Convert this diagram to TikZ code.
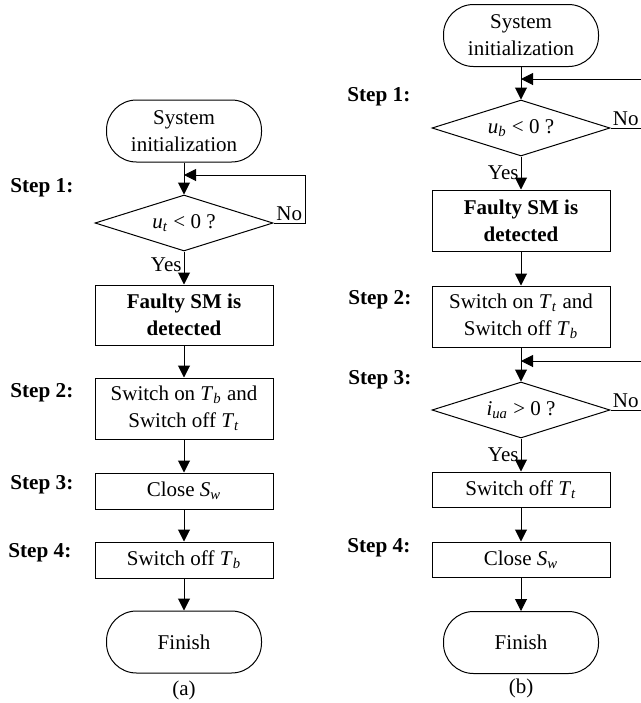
\documentclass[tikz,border=0pt]{standalone}
\usepackage{fontspec}
\setmainfont{Liberation Serif}
\usetikzlibrary{arrows.meta,positioning,shapes.geometric}

\newcommand{\symsub}[2]{\textit{#1}\textsubscript{\textit{#2}}}

\tikzset{
  flowline/.style={line width=0.5pt,-{Triangle[length=6pt,width=6pt]}},
  plainline/.style={line width=0.5pt},
  term/.style={draw,line width=0.5pt,rounded corners=15pt,minimum width=77.5pt,minimum height=31pt,align=center,inner sep=1pt},
  procbox/.style={draw,line width=0.5pt,minimum width=89pt,align=center,inner sep=1pt},
  decide/.style={draw,line width=0.5pt,diamond,aspect=3.2,minimum width=89pt,minimum height=28pt,inner sep=0pt},
  steplabel/.style={anchor=west,font=\fontsize{10.6}{13.5}\selectfont\bfseries,inner sep=0pt},
}

\begin{document}
\begin{tikzpicture}[x=0.5pt,y=-0.5pt,font=\fontsize{10.5}{13.5}\selectfont]
\useasboundingbox (0,0) rectangle (641,703);

% (a) left chart
\node[term] (ainit) at (184,131) {System\\initialization};
\node[decide] (adec) at (184,223) {\symsub{u}{t} < 0 ?};
\node[procbox,minimum height=30pt] (adet) at (184,315) {\textbf{Faulty SM is}\\\textbf{detected}};
\node[procbox,minimum height=30.5pt] (asw) at (184,408.5) {Switch on \symsub{T}{b} and\\Switch off \symsub{T}{t}};
\node[procbox,minimum height=18pt] (acl) at (184,491) {Close \symsub{S}{w}};
\node[procbox,minimum height=18pt] (aoff) at (184,560) {Switch off \symsub{T}{b}};
\node[term] (afin) at (184,642) {Finish};

\node[steplabel] (astep1) at (10,188) {Step 1:};
\node[steplabel] (astep2) at (10,393) {Step 2:};
\node[steplabel] (astep3) at (10,485) {Step 3:};
\node[steplabel] (astep4) at (8,553) {Step 4:};
\node (acap) at (184,690) {(a)};

\coordinate (ajoin) at (184,175);
\coordinate (acorner) at (305,223);
\draw[flowline] (ainit) -- (adec);
\draw[flowline] (adec.east) -- node[above,inner sep=1pt]{No} (acorner) |- (ajoin);
\draw[flowline] (adec) -- node[pos=0.4,left,inner sep=1pt]{Yes} (adet);
\draw[flowline] (adet) -- (asw);
\draw[flowline] (asw) -- (acl);
\draw[flowline] (acl) -- (aoff);
\draw[flowline] (aoff) -- (afin);

% (b) right chart
\node[term] (binit) at (521,35.5) {System\\initialization};
\node[decide] (bdec) at (521,128) {\symsub{u}{b} < 0 ?};
\node[procbox,minimum height=30.5pt] (bdet) at (521,220.5) {\textbf{Faulty SM is}\\\textbf{detected}};
\node[procbox,minimum height=30.5pt] (bsw) at (521,316.5) {Switch on \symsub{T}{t} and\\Switch off \symsub{T}{b}};
\node[decide] (bdec2) at (521,410) {\symsub{i}{ua} > 0 ?};
\node[procbox,minimum height=17.5pt] (boff) at (521,489.5) {Switch off \symsub{T}{t}};
\node[procbox,minimum height=17.5pt] (bcl) at (521,559.5) {Close \symsub{S}{w}};
\node[term] (bfin) at (521,642.5) {Finish};

\node[steplabel] (bstep1) at (347,97) {Step 1:};
\node[steplabel] (bstep2) at (348,300) {Step 2:};
\node[steplabel] (bstep3) at (348,380) {Step 3:};
\node[steplabel] (bstep4) at (347,548) {Step 4:};
\node (bcap) at (521,688) {(b)};

\coordinate (bjoin1) at (521,79);
\coordinate (bedge1) at (641,79);
\coordinate (bno1) at (641,128);
\coordinate (bjoin2) at (521,361);
\coordinate (bedge2) at (641,361);
\coordinate (bno2) at (641,410);
\draw[flowline] (binit) -- (bdec);
\draw[flowline] (bedge1) -- (bjoin1);
\draw[plainline] (bdec.east) -- node[above,inner sep=1pt]{No} (bno1);
\draw[flowline] (bdec) -- node[pos=0.5,left,inner sep=1pt]{Yes} (bdet);
\draw[flowline] (bdet) -- (bsw);
\draw[flowline] (bsw) -- (bdec2);
\draw[flowline] (bedge2) -- (bjoin2);
\draw[plainline] (bdec2.east) -- node[above,inner sep=1pt]{No} (bno2);
\draw[flowline] (bdec2) -- node[pos=0.5,left,inner sep=1pt]{Yes} (boff);
\draw[flowline] (boff) -- (bcl);
\draw[flowline] (bcl) -- (bfin);
\end{tikzpicture}
\end{document}
